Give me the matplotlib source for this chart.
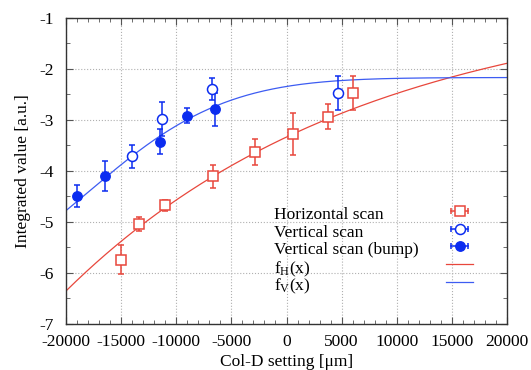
import numpy as np
import matplotlib
matplotlib.use("Agg")
import matplotlib.pyplot as plt
from matplotlib.lines import Line2D
from matplotlib.legend_handler import HandlerLine2D, HandlerTuple

plt.rcParams['font.family'] = ['Liberation Serif', 'DejaVu Serif']
plt.rcParams['mathtext.fontset'] = 'custom'
plt.rcParams['mathtext.rm'] = 'Liberation Serif'
plt.rcParams['mathtext.default'] = 'regular'
plt.rcParams['axes.unicode_minus'] = False

# data
horiz_x = [-15000, -13400, -11000, -6700, -2850, 600, 3750, 6000]
horiz_y = [-5.74, -5.04, -4.68, -4.11, -3.63, -3.28, -2.94, -2.48]
horiz_err = [0.29, 0.14, 0.10, 0.22, 0.26, 0.41, 0.25, 0.34]

vert_x = [-14000, -11250, -6750, 4700]
vert_y = [-3.72, -2.98, -2.40, -2.48]
vert_err = [0.22, 0.33, 0.22, 0.34]

bump_x = [-19000, -16500, -11500, -9000, -6500]
bump_y = [-4.49, -4.10, -3.43, -2.92, -2.80]
bump_err = [0.21, 0.30, 0.24, 0.15, 0.32]

labels = ['Horizontal scan', 'Vertical scan', 'Vertical scan (bump)',
          'f$_{H}$(x)', 'f$_{V}$(x)']

# fit parameters (estimated)
fh_A, fh_B, fh_k = -0.569, 2.771, 0.368e-4          # A - B*exp(-k x)
fv_A, fv_B, fv_x0, fv_s = -2.175, 3.67, -30100, 12200  # A - B*exp(-(x-x0)^2/2s^2)

def f_H(x):
    return fh_A - fh_B*np.exp(-fh_k*x)

def f_V(x):
    return fv_A - fv_B*np.exp(-(x-fv_x0)**2/(2*fv_s**2))

red = '#e8473c'
blue_line = '#3d5cf2'
blue = '#0b2cf0'
fs = 12.5

fig = plt.figure(figsize=(5.31, 3.70), dpi=100)
ax = fig.add_axes([0.1243, 0.1243, 0.8305, 0.8284])

xs = np.linspace(-20000, 20000, 400)
ax.plot(xs, f_H(xs), color=red, lw=0.9, zorder=2)
ax.plot(xs, f_V(xs), color=blue_line, lw=0.9, zorder=2)

ax.errorbar(horiz_x, horiz_y, yerr=horiz_err, fmt='s', ms=7.5, mfc='white', mec=red,
            mew=1.1, ecolor=red, elinewidth=1.1, capsize=2.5, capthick=1.1, zorder=3)
ax.errorbar(vert_x, vert_y, yerr=vert_err, fmt='o', ms=7.2, mfc='white', mec=blue,
            mew=1.1, ecolor=blue, elinewidth=1.1, capsize=2.5, capthick=1.1, zorder=3)
ax.errorbar(bump_x, bump_y, yerr=bump_err, fmt='o', ms=6.8, mfc=blue, mec=blue,
            ecolor=blue, elinewidth=1.1, capsize=2.5, capthick=1.1, zorder=3)

ax.set_xlim(-20000, 20000)
ax.set_ylim(-7, -1)
ax.set_xticks(np.arange(-20000, 20001, 5000))
ax.set_xticks(np.arange(-20000, 20001, 1000), minor=True)
ax.set_yticks(np.arange(-7, -0.9, 1))
ax.set_yticks(np.arange(-7, -0.9, 0.5), minor=True)
ax.tick_params(which='both', direction='in', top=True, right=True, labelsize=fs)
ax.tick_params(which='major', length=5, color='#555555')
ax.tick_params(which='minor', length=3, color='#555555')
ax.tick_params(axis='x', pad=7)
ax.tick_params(axis='y', pad=9)
ax.grid(True, which='major', color='#b0b0b0', ls=':', lw=0.8)
for s in ax.spines.values():
    s.set_color('#333333')
    s.set_linewidth(1.0)

ax.set_xlabel('Col-D setting [μm]', fontsize=fs, labelpad=3)
ax.set_ylabel('Integrated value [a.u.]', fontsize=fs, labelpad=6)

# gnuplot-like key: labels left aligned, samples in a column to the right
def cap_handle(c):
    return Line2D([], [], color=c, lw=1.1, marker='|', ms=5, mew=1.1)

h1 = (cap_handle(red), Line2D([], [], ls='none', marker='s', ms=7.5, mfc='white', mec=red, mew=1.1))
h2 = (cap_handle(blue), Line2D([], [], ls='none', marker='o', ms=7.2, mfc='white', mec=blue, mew=1.1))
h3 = (cap_handle(blue), Line2D([], [], ls='none', marker='o', ms=6.8, mfc=blue, mec=blue))
h4 = Line2D([], [], color=red, lw=0.9)
h5 = Line2D([], [], color=blue_line, lw=0.9)
hmap = {h1[0]: HandlerLine2D(numpoints=2), h2[0]: HandlerLine2D(numpoints=2),
        h3[0]: HandlerLine2D(numpoints=2)}
for h in (h1, h2, h3):
    hmap[h] = HandlerTuple(ndivide=1)

key_x = 0.4717
key_y0 = 0.362
key_step = 0.0577
for i, lab in enumerate(labels):
    ax.text(key_x, key_y0 - i*key_step, lab, transform=ax.transAxes,
            fontsize=fs, ha='left', va='center_baseline')

ax.legend([h1, h2, h3, h4, h5], [''] * 5, handler_map=hmap,
          frameon=False, fontsize=fs, loc='center left', borderpad=0,
          labelspacing=0.1, numpoints=1, borderaxespad=0,
          bbox_to_anchor=(0.862, key_y0 - 2*key_step), handlelength=1.55,
          handletextpad=0)

fig.savefig('out.png', dpi=100)
